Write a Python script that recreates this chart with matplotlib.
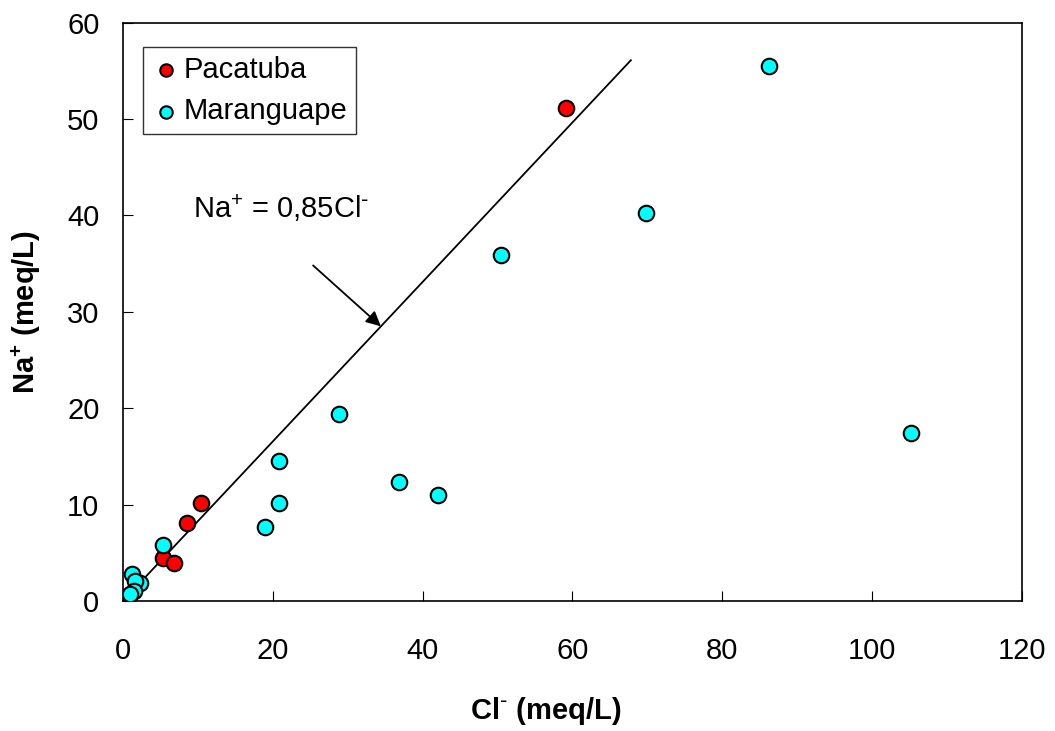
import matplotlib
matplotlib.use("Agg")
import matplotlib.pyplot as plt

plt.rcParams['font.family'] = ['Liberation Sans', 'DejaVu Sans']
plt.rcParams['mathtext.default'] = 'regular'

# Pacatuba (red)
pac_cl = [59.1, 8.5, 10.4, 5.4, 6.8]
pac_na = [51.1, 8.1, 10.2, 4.5, 3.9]

# Maranguape (cyan)
mar_cl = [86.3, 69.8, 50.4, 28.9, 20.8, 20.8, 18.9, 36.8, 42.0, 105.2,
          5.3, 2.3, 1.2, 1.6, 1.5, 0.9]
mar_na = [55.5, 40.2, 35.9, 19.4, 14.5, 10.2, 7.7, 12.3, 11.0, 17.4,
          5.8, 1.9, 2.8, 2.1, 1.0, 0.7]

# reference line Na = 0,85 Cl (as drawn)
line_x = [0, 67.8]
line_y = [0, 56.1]

fig = plt.figure(figsize=(10.55, 7.31), dpi=100)
ax = fig.add_axes([0.1166, 0.178, 0.852, 0.791])

ax.plot(line_x, line_y, color='black', lw=1.3, zorder=1)
ax.scatter(pac_cl, pac_na, s=125, c='#ff0000', edgecolors='black',
           linewidths=1.5, zorder=3, label='Pacatuba')
ax.scatter(mar_cl, mar_na, s=125, c='#00ffff', edgecolors='black',
           linewidths=1.5, zorder=4, label='Maranguape')

ax.annotate('', xy=(34.7, 28.3), xytext=(25.1, 35.0),
            arrowprops=dict(arrowstyle='-|>', color='black', lw=1.3,
                            mutation_scale=22))
ax.text(9.3, 39.7, 'Na$^{+}$ = 0,85Cl$^{\\text{-}}$', fontsize=21, va='baseline')

ax.set_xlim(0, 120)
ax.set_ylim(0, 60)
ax.set_xticks(range(0, 121, 20))
ax.set_yticks(range(0, 61, 10))
ax.tick_params(direction='in', length=7, labelsize=21)
ax.tick_params(axis='x', pad=26)
ax.tick_params(axis='y', pad=17)
for sp in ax.spines.values():
    sp.set_linewidth(1.2)

ax.set_xlabel('Cl$^{\\text{-}}$ (meq/L)', fontsize=21, fontweight='bold')
ax.set_ylabel('Na$^{+}$ (meq/L)', fontsize=21, fontweight='bold')
ax.xaxis.set_label_coords(0.47, -0.163)
ax.yaxis.set_label_coords(-0.089, 0.5)

leg = ax.legend(loc='upper left', bbox_to_anchor=(0.022, 0.958), fontsize=21,
                frameon=True, fancybox=False, edgecolor='black',
                handletextpad=0.1, borderpad=0.3, labelspacing=0.47,
                borderaxespad=0, markerscale=0.8, handlelength=1.0)
leg.get_frame().set_linewidth(1.0)

fig.savefig('out.png', dpi=100)
